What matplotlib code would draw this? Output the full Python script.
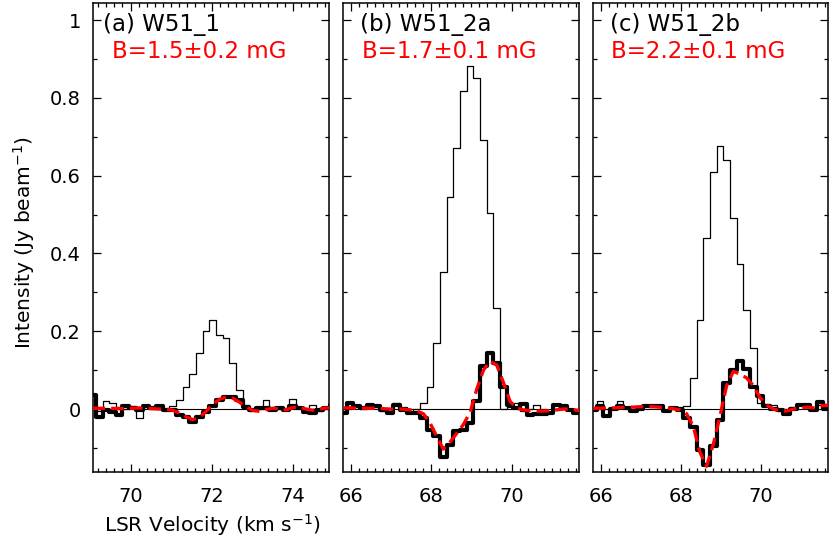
import matplotlib
matplotlib.use('Agg')
import matplotlib.pyplot as plt
from matplotlib.ticker import MultipleLocator, FuncFormatter

# channel velocities (km/s) and spectra
vel_a = [69.06, 69.23, 69.39, 69.55, 69.72, 69.88, 70.05, 70.21, 70.38, 70.54, 70.71, 70.87,
         71.04, 71.20, 71.37, 71.53, 71.69, 71.86, 72.02, 72.19, 72.35, 72.52, 72.68, 72.85,
         73.01, 73.18, 73.34, 73.51, 73.67, 73.83, 74.00, 74.16, 74.33, 74.49, 74.66, 74.82, 74.99]
stokesI_a = [0.005, -0.005, 0.02, 0.015, 0.005, 0.0, 0.008, -0.024, 0.005, 0.003, 0.008, 0.0,
             0.008, 0.023, 0.057, 0.09, 0.145, 0.2, 0.229, 0.19, 0.182, 0.119, 0.049, 0.01,
             -0.005, 0.0, 0.023, 0.005, 0.0, 0.004, 0.025, 0.005, -0.003, 0.01, -0.005, 0.005, 0.005]
stokesV_a = [0.036, -0.02, -0.003, -0.007, -0.015, 0.008, 0.004, -0.003, 0.008, 0.004, 0.008, -0.003,
             -0.003, -0.015, -0.021, -0.033, -0.021, -0.007, 0.008, 0.023, 0.032, 0.03, 0.023, 0.006,
             -0.003, 0.004, 0.002, -0.003, 0.004, -0.003, 0.008, 0.004, -0.007, -0.011, -0.003, 0.004, 0.01]
fit_a = [0.002, 0.002, 0.002, 0.002, 0.001, 0.001, 0.002, 0.003, 0.002, 0.001, 0.0, 0.0,
         -0.003, -0.01, -0.02, -0.027, -0.022, -0.006, 0.012, 0.025, 0.031, 0.028, 0.018, 0.005,
         -0.003, -0.006, -0.001, 0.002, 0.0, -0.002, 0.004, 0.005, 0.0, -0.003, 0.0, 0.003, 0.003]

vel_b = [65.82, 65.99, 66.15, 66.32, 66.48, 66.65, 66.81, 66.98, 67.14, 67.31, 67.48, 67.64,
         67.81, 67.97, 68.14, 68.30, 68.47, 68.64, 68.80, 68.97, 69.13, 69.30, 69.46, 69.63,
         69.79, 69.96, 70.13, 70.29, 70.46, 70.62, 70.79, 70.95, 71.12, 71.28, 71.45, 71.62, 71.78]
stokesI_b = [-0.01, 0.012, 0.005, 0.0, 0.008, 0.005, -0.005, 0.0, 0.015, 0.005, -0.01, 0.0,
             0.016, 0.057, 0.17, 0.353, 0.546, 0.670, 0.818, 0.882, 0.851, 0.692, 0.503, 0.261,
             0.0, 0.005, 0.015, -0.005, 0.0, 0.01, 0.0, -0.01, 0.012, 0.005, 0.0, -0.005, 0.0]
stokesV_b = [-0.010, 0.015, 0.007, 0.003, 0.011, 0.007, -0.002, -0.010, 0.011, -0.002, -0.010, -0.010,
             -0.023, -0.053, -0.070, -0.122, -0.092, -0.057, -0.053, -0.036, 0.020, 0.110, 0.144, 0.118,
             0.058, 0.011, 0.003, 0.014, -0.015, -0.012, -0.012, -0.010, 0.011, 0.009, -0.002, -0.010, -0.010]
fit_b = [0.003, 0.003, 0.002, 0.002, 0.002, 0.002, 0.001, 0.0, 0.0, 0.0, -0.002, -0.005,
         -0.012, -0.035, -0.07, -0.103, -0.085, -0.062, -0.04, -0.008, 0.05, 0.1, 0.123, 0.113,
         0.07, 0.02, 0.002, -0.002, -0.004, -0.005, -0.005, -0.004, -0.002, 0.0, 0.0, -0.003, -0.005]

vel_c = [65.81, 65.97, 66.14, 66.31, 66.47, 66.64, 66.81, 66.97, 67.14, 67.31, 67.47, 67.64,
         67.81, 67.97, 68.14, 68.31, 68.47, 68.64, 68.81, 68.97, 69.14, 69.31, 69.47, 69.64,
         69.81, 69.97, 70.14, 70.31, 70.47, 70.64, 70.81, 70.97, 71.14, 71.31, 71.47, 71.64, 71.81]
stokesI_c = [0.0, 0.02, 0.0, 0.005, 0.022, 0.003, 0.0, 0.005, 0.008, 0.01, 0.005, -0.003,
             0.004, 0.006, 0.009, 0.08, 0.23, 0.441, 0.61, 0.676, 0.640, 0.492, 0.373, 0.255,
             0.157, 0.015, 0.012, 0.01, -0.005, 0.0, 0.005, 0.01, 0.005, -0.003, 0.01, 0.0, 0.0]
stokesV_c = [-0.002, 0.007, -0.019, 0.0, 0.007, 0.003, -0.006, 0.0, 0.007, 0.009, 0.007, -0.006,
             0.003, -0.002, -0.023, -0.045, -0.105, -0.143, -0.096, -0.027, 0.067, 0.101, 0.123, 0.103,
             0.058, 0.033, 0.009, 0.0, -0.002, -0.012, 0.0, 0.011, 0.011, -0.002, 0.017, 0.0, 0.0]
fit_c = [0.002, 0.002, 0.003, 0.003, 0.004, 0.005, 0.005, 0.006, 0.006, 0.006, 0.005, 0.003,
         0.001, -0.002, -0.012, -0.045, -0.11, -0.147, -0.09, -0.02, 0.06, 0.097, 0.09, 0.08,
         0.06, 0.03, 0.01, 0.0, -0.004, -0.005, 0.0, 0.003, 0.005, 0.003, 0.008, 0.01, 0.012]

names = ['(a) W51_1', '(b) W51_2a', '(c) W51_2b']
bfield = ['B=1.5\u00b10.2 mG', 'B=1.7\u00b10.1 mG', 'B=2.2\u00b10.1 mG']
xlims = [(69.08, 74.90), (65.82, 71.68), (65.81, 71.68)]

W, H = 830, 542


def fx(x):
    return x / W


def fy(y):
    return 1 - y / H


fig = plt.figure(figsize=(8.3, 5.42), dpi=100)

left_px = [93.3, 343.3, 593.3]
width_px = [236, 236, 235]
name_px = [103, 360, 610]
bf_px = [112, 362, 611]
top, bot = 3, 471.7

spectra = [(vel_a, stokesI_a, stokesV_a, fit_a),
           (vel_b, stokesI_b, stokesV_b, fit_b),
           (vel_c, stokesI_c, stokesV_c, fit_c)]

for i, (vel, sI, sV, fit) in enumerate(spectra):
    ax = fig.add_axes([fx(left_px[i]), fy(bot), width_px[i] / W, (bot - top) / H])
    ax.axhline(0, color='black', lw=0.8, zorder=1)
    ax.step(vel, sI, where='mid', color='black', lw=0.9, zorder=2)
    ax.step(vel, sV, where='mid', color='black', lw=3.0, zorder=3)
    ax.plot(vel, fit, color='red', lw=2.4, dashes=(3.8, 1.8), zorder=4)

    ax.set_xlim(*xlims[i])
    ax.set_ylim(-0.161, 1.044)
    ax.xaxis.set_major_locator(MultipleLocator(2))
    ax.xaxis.set_minor_locator(MultipleLocator(0.2))
    ax.yaxis.set_major_locator(MultipleLocator(0.2))
    ax.yaxis.set_minor_locator(MultipleLocator(0.1))
    ax.yaxis.set_major_formatter(FuncFormatter(lambda v, p: '%g' % round(v, 2)))
    ax.tick_params(which='both', direction='in', top=True, right=True, width=0.9, labelsize=14)
    ax.tick_params(which='major', length=6)
    ax.tick_params(which='minor', length=3.2)
    ax.tick_params(axis='x', pad=11)
    ax.tick_params(axis='y', pad=9)
    if i > 0:
        ax.tick_params(axis='y', labelleft=False)
    for s in ax.spines.values():
        s.set_linewidth(1.1)

    fig.text(fx(name_px[i]), fy(24), names[i], fontsize=16.5, color='black', ha='left', va='center')
    fig.text(fx(bf_px[i]), fy(52), bfield[i], fontsize=16.5, color='red', ha='left', va='center')

fig.text(fx(24), fy(243), 'Intensity (Jy beam$^{-1}$)', rotation=90, fontsize=14.5,
         ha='center', va='center')
fig.text(fx(212), fy(525), 'LSR Velocity (km s$^{-1}$)', fontsize=14.5, ha='center', va='center')

fig.savefig('out.png', dpi=100)
